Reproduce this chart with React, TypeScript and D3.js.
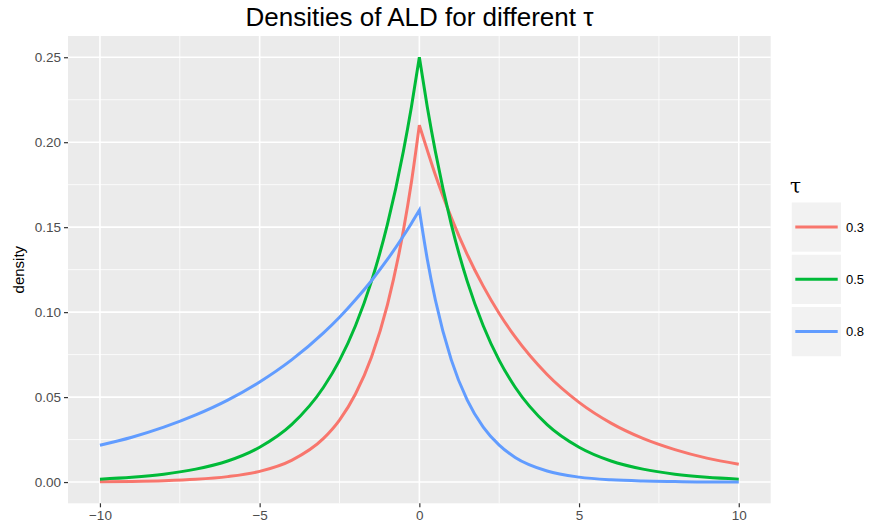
import React, { useEffect, useRef } from 'react';
import * as d3 from 'd3';

const xValues = [-10, -9, -8, -7, -6, -5, -4, -3, -2.5, -2, -1.5, -1, -0.5, -0.25, 0,
  0.25, 0.5, 1, 1.5, 2, 2.5, 3, 4, 5, 6, 7, 8, 9, 10];

const tau03 = [0.0002, 0.0004, 0.0008, 0.0016, 0.0032, 0.0063, 0.0128, 0.0257, 0.0365, 0.0518, 0.0735, 0.1043, 0.148, 0.1763, 0.21,
  0.1952, 0.1808, 0.1556, 0.1339, 0.1153, 0.0992, 0.0854, 0.0633, 0.0469, 0.0347, 0.0257, 0.0191, 0.0141, 0.0105];
const tau05 = [0.0017, 0.0028, 0.0046, 0.0076, 0.0124, 0.0205, 0.0338, 0.0558, 0.0716, 0.092, 0.1181, 0.1516, 0.1947, 0.2206, 0.25,
  0.2206, 0.1947, 0.1516, 0.1181, 0.092, 0.0716, 0.0558, 0.0338, 0.0205, 0.0124, 0.0076, 0.0046, 0.0028, 0.0017];
const tau08 = [0.0217, 0.0264, 0.0323, 0.0395, 0.0482, 0.0589, 0.0719, 0.0878, 0.097, 0.1073, 0.1185, 0.131, 0.1448, 0.1522, 0.16,
  0.131, 0.1073, 0.0719, 0.0482, 0.0323, 0.0217, 0.0145, 0.0065, 0.0029, 0.0013, 0.0006, 0.0003, 0.0001, 0.0001];

const seriesNames = ['0.3', '0.5', '0.8'];
const seriesColors = ['#F8766D', '#00BA38', '#619CFF'];
const xTicks = [-10, -5, 0, 5, 10];
const yTicks = [0, 0.05, 0.1, 0.15, 0.2, 0.25];

export default function App() {
  const svgRef = useRef<SVGSVGElement>(null);
  const width = 870;
  const height = 526;

  useEffect(() => {
    const svg = d3.select(svgRef.current);
    svg.selectAll('*').remove();

    const left = 68, right = 770.7, top = 36, bottom = 503.3;

    // Escalas (ggplot expansion 5%)
    const x = d3.scaleLinear().domain([-11, 11]).range([left, right]);
    const y = d3.scaleLinear().domain([-0.0125, 0.2625]).range([bottom, top]);

    // panel
    svg.append('rect')
      .attr('x', left).attr('y', top)
      .attr('width', right - left).attr('height', bottom - top)
      .attr('fill', '#EBEBEB');

    const minorX = [-7.5, -2.5, 2.5, 7.5];
    const minorY = [0.025, 0.075, 0.125, 0.175, 0.225];

    const grid = svg.append('g');
    minorX.forEach(v => grid.append('line')
      .attr('x1', x(v)).attr('x2', x(v)).attr('y1', top).attr('y2', bottom)
      .attr('stroke', '#fff').attr('stroke-width', 0.8));
    minorY.forEach(v => grid.append('line')
      .attr('x1', left).attr('x2', right).attr('y1', y(v)).attr('y2', y(v))
      .attr('stroke', '#fff').attr('stroke-width', 0.8));
    xTicks.forEach(v => grid.append('line')
      .attr('x1', x(v)).attr('x2', x(v)).attr('y1', top).attr('y2', bottom)
      .attr('stroke', '#fff').attr('stroke-width', 1.6));
    yTicks.forEach(v => grid.append('line')
      .attr('x1', left).attr('x2', right).attr('y1', y(v)).attr('y2', y(v))
      .attr('stroke', '#fff').attr('stroke-width', 1.6));

    // curves, split at the peak so the cusp stays sharp
    const series = [tau03, tau05, tau08];
    const peak = xValues.indexOf(0);
    const line = d3.line<[number, number]>()
      .x(d => x(d[0]))
      .y(d => y(d[1]))
      .curve(d3.curveMonotoneX);

    series.forEach((vals, i) => {
      const pts: [number, number][] = xValues.map((xv, j) => [xv, vals[j]]);
      const d = line(pts.slice(0, peak + 1))! + line(pts.slice(peak))!.replace(/^M/, 'L');
      svg.append('path')
        .attr('d', d)
        .attr('fill', 'none')
        .attr('stroke', seriesColors[i])
        .attr('stroke-width', 3)
        .attr('stroke-linejoin', 'miter');
    });

    // Ejes
    const xAxis = svg.append('g').attr('transform', `translate(0, ${bottom})`)
      .call(d3.axisBottom(x).tickValues(xTicks).tickSize(4).tickPadding(3)
        .tickFormat(d => (+d < 0 ? '\u2212' + Math.abs(+d) : String(d))));
    xAxis.select('.domain').remove();
    xAxis.selectAll('line').attr('stroke', '#333').attr('stroke-width', 1.2);
    xAxis.selectAll('text').attr('fill', '#4D4D4D').style('font-size', '13.5px')
      .style('font-family', 'Liberation Sans, Arial, sans-serif');

    const yAxis = svg.append('g').attr('transform', `translate(${left}, 0)`)
      .call(d3.axisLeft(y).tickValues(yTicks).tickSize(4).tickPadding(3)
        .tickFormat(d3.format('.2f')));
    yAxis.select('.domain').remove();
    yAxis.selectAll('line').attr('stroke', '#333').attr('stroke-width', 1.2);
    yAxis.selectAll('text').attr('fill', '#4D4D4D').style('font-size', '13.5px')
      .style('font-family', 'Liberation Sans, Arial, sans-serif');

    // title and axis label
    svg.append('text')
      .attr('x', 419.5).attr('y', 26)
      .attr('text-anchor', 'middle')
      .style('font-family', 'Liberation Sans, Arial, sans-serif')
      .style('font-size', '26px')
      .text('Densities of ALD for different \u03C4');

    svg.append('text')
      .attr('transform', `translate(24, ${(top + bottom) / 2}) rotate(-90)`)
      .attr('text-anchor', 'middle')
      .style('font-family', 'Liberation Sans, Arial, sans-serif')
      .style('font-size', '15px')
      .text('density');

    // Leyenda
    const legend = svg.append('g');
    legend.append('text')
      .attr('x', 790).attr('y', 193)
      .style('font-family', 'DejaVu Serif, serif')
      .style('font-size', '20px')
      .text('\u03C4');

    seriesNames.forEach((name, i) => {
      const ky = 201.7 + i * 52.3;
      legend.append('rect')
        .attr('x', 791).attr('y', ky)
        .attr('width', 50.7).attr('height', 50.7)
        .attr('fill', '#F2F2F2').attr('stroke', '#fff').attr('stroke-width', 1.5);
      legend.append('line')
        .attr('x1', 795.3).attr('x2', 837.7)
        .attr('y1', ky + 25.3).attr('y2', ky + 25.3)
        .attr('stroke', seriesColors[i]).attr('stroke-width', 3);
      legend.append('text')
        .attr('x', 846).attr('y', ky + 25.3)
        .attr('dy', '0.35em')
        .attr('fill', '#000')
        .style('font-family', 'Liberation Sans, Arial, sans-serif')
        .style('font-size', '13px')
        .text(name);
    });
  }, []);

  return (
    <svg ref={svgRef} width={width} height={height}
      style={{ position: 'absolute', left: 0, top: 0, background: '#fff' }} />
  );
}
